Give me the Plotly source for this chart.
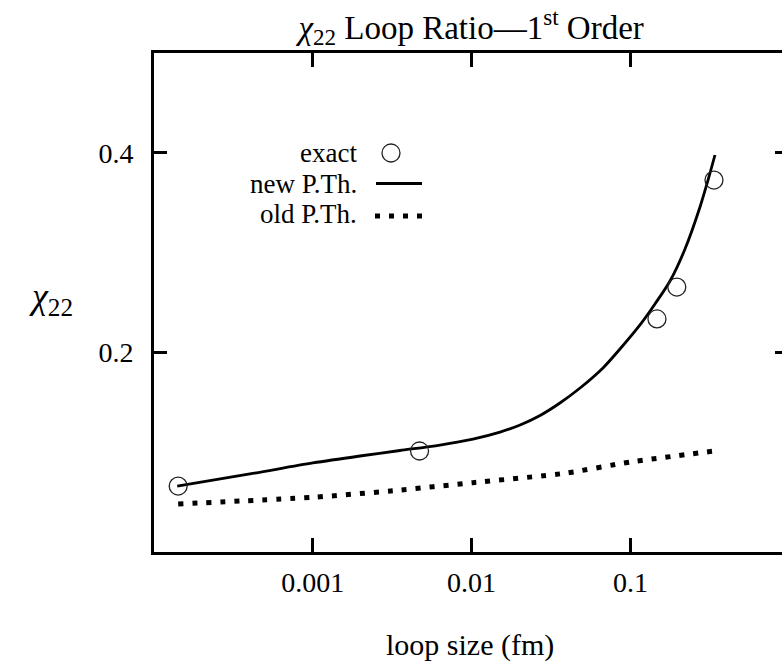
import plotly.graph_objects as go

# ---- data ----
new_x = [1.40e-4, 4.02e-4, 0.001, 0.00198, 0.00354, 0.00632, 0.0102, 0.0151, 0.0202, 0.0270,
         0.0360, 0.0482, 0.0672, 0.0860, 0.1149, 0.1428, 0.1776, 0.2207, 0.2743, 0.3082, 0.3409]
new_y = [0.0661, 0.0782, 0.0892, 0.0962, 0.1017, 0.1072, 0.1132, 0.1202, 0.1273, 0.1368,
         0.1493, 0.1643, 0.1844, 0.2034, 0.2275, 0.2485, 0.2715, 0.3036, 0.3457, 0.3727, 0.3978]

old_x = [1.42e-4, 0.001, 0.0032, 0.0102, 0.0387, 0.100, 0.351]
old_y = [0.0481, 0.0548, 0.0614, 0.0695, 0.0789, 0.0902, 0.1015]

exact_x = [1.42e-4, 0.0047, 0.147, 0.196, 0.336]
exact_y = [0.0661, 0.1012, 0.2335, 0.2655, 0.3727]

x_tickvals = [0.001, 0.01, 0.1]
x_ticktext = ["0.001", "0.01", "0.1"]
y_tickvals = [0.2, 0.4]
y_ticktext = ["0.2", "0.4"]

legend_labels = ["exact", "new P.Th.", "old P.Th."]

FONT = "Liberation Serif"
W, H = 782, 665
L, R, T, B = 154, 0, 53, 113
PW = W - L - R
PH = H - T - B
DECADE = 158.8


def px(xp):
    return (xp - L) / PW


def py(yp):
    return (H - B - yp) / PH


fig = go.Figure()
fig.add_trace(go.Scatter(x=new_x, y=new_y, mode="lines",
                         line=dict(color="black", width=2.8, shape="spline", smoothing=0.8),
                         showlegend=False, name=legend_labels[1]))
fig.add_trace(go.Scatter(x=old_x, y=old_y, mode="lines",
                         line=dict(color="black", width=5, dash="5px,9px", shape="spline", smoothing=0.6),
                         showlegend=False, name=legend_labels[2]))
fig.add_trace(go.Scatter(x=exact_x, y=exact_y, mode="markers",
                         marker=dict(symbol="circle-open", size=18, color="#222", line=dict(width=1.3, color="#222")),
                         showlegend=False, name=legend_labels[0]))

# invisible trace on right axis for mirrored y ticks
fig.add_trace(go.Scatter(x=[None], y=[None], yaxis="y2", showlegend=False, hoverinfo="skip"))

fig.update_layout(
    width=W, height=H,
    margin=dict(l=L, r=R, t=T, b=B),
    paper_bgcolor="white", plot_bgcolor="white",
    font=dict(family=FONT, size=28, color="black"),
    showlegend=False,
    title=dict(text="<i>χ</i><sub>22</sub> Loop Ratio—1<sup>st</sup> Order",
               x=0.505, xref="paper", xanchor="center",
               y=1 - 27 / H, yref="container", yanchor="middle",
               font=dict(family=FONT, size=33, color="black")),
    xaxis=dict(type="log", range=[-4, -4 + PW / DECADE],
               tickvals=x_tickvals, ticktext=x_ticktext,
               ticks="inside", ticklen=14, tickwidth=3, tickcolor="black",
               showline=True, linewidth=3, linecolor="black", mirror="ticks",
               showgrid=False, zeroline=False,
               ticklabelstandoff=3,
               tickfont=dict(family=FONT, size=28)),
    yaxis=dict(range=[0, 0.5],
               tickvals=y_tickvals, ticktext=y_ticktext,
               ticks="inside", ticklen=13, tickwidth=3, tickcolor="black",
               showline=True, linewidth=3, linecolor="black", mirror=False,
               showgrid=False, zeroline=False,
               ticklabelstandoff=12,
               tickfont=dict(family=FONT, size=28)),
    yaxis2=dict(range=[0, 0.5], overlaying="y", side="right", anchor="x",
                tickvals=y_tickvals, showticklabels=False,
                ticks="inside", ticklen=7, tickwidth=3, tickcolor="black",
                showline=False, showgrid=False, zeroline=False),
)

# axis labels
fig.add_annotation(text="loop size (fm)", xref="paper", yref="paper",
                   x=px(470), y=py(645), xanchor="center", yanchor="middle",
                   showarrow=False, font=dict(family=FONT, size=30))
fig.add_annotation(text="<i>χ</i><sub>22</sub>", xref="paper", yref="paper",
                   x=px(51), y=py(298), xanchor="center", yanchor="middle",
                   showarrow=False, font=dict(family=FONT, size=36))

# legend (text right-aligned, key to the right, as in the reference)
rows = [153, 183.5, 214]
for lab, r in zip(legend_labels, rows):
    fig.add_annotation(text=lab, xref="paper", yref="paper",
                       x=px(359), y=py(r), xanchor="right", yanchor="middle",
                       showarrow=False, font=dict(family=FONT, size=27))

fig.add_shape(type="circle", xref="paper", yref="paper",
              xsizemode="pixel", ysizemode="pixel",
              xanchor=px(391), yanchor=py(rows[0]),
              x0=-9, x1=9, y0=-9, y1=9,
              line=dict(color="#222", width=1.3))
fig.add_shape(type="line", xref="paper", yref="paper",
              x0=px(376), x1=px(422), y0=py(rows[1]), y1=py(rows[1]),
              line=dict(color="black", width=2.8))
fig.add_shape(type="line", xref="paper", yref="paper",
              x0=px(375), x1=px(427), y0=py(rows[2] + 2), y1=py(rows[2] + 2),
              line=dict(color="black", width=5, dash="5px,9px"))

fig.write_html("out.html")
